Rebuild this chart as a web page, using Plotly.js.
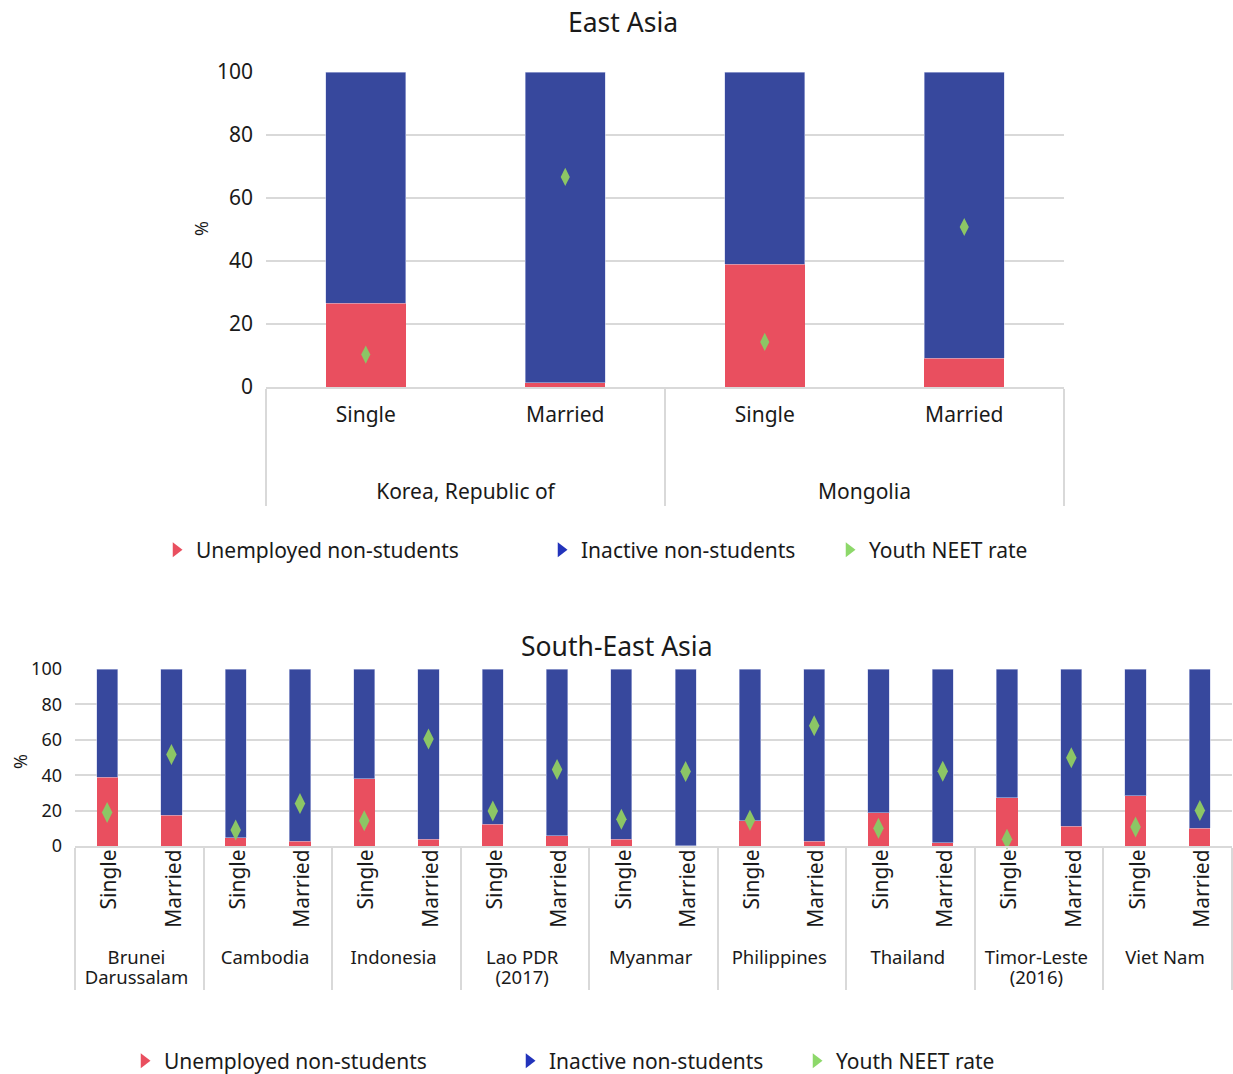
<!DOCTYPE html>
<html>
<head>
<meta charset="utf-8">
<script src="https://cdn.plot.ly/plotly-3.0.1.min.js"></script>
<style>
  html, body { margin: 0; padding: 0; background: #fff; }
  #chart { width: 1233px; height: 1074px; }
</style>
</head>
<body>
<div id="chart"></div>
<script>
// East Asia: NEET composition by marital status (%)
const eastCountries = ["Korea, Republic of", "Korea, Republic of", "Mongolia", "Mongolia"];
const eastStatus = ["Single", "Married", "Single", "Married"];
const eastUnemployed = [26.6, 1.3, 39.0, 9.2];
const eastInactive = [73.4, 98.7, 61.0, 90.8];
const eastNeet = [10.3, 66.7, 14.3, 50.8];

// South-East Asia: NEET composition by marital status (%)
const seCountries = [
  "Brunei<br>Darussalam", "Brunei<br>Darussalam",
  "Cambodia", "Cambodia",
  "Indonesia", "Indonesia",
  "Lao PDR<br>(2017)", "Lao PDR<br>(2017)",
  "Myanmar", "Myanmar",
  "Philippines", "Philippines",
  "Thailand", "Thailand",
  "Timor-Leste<br>(2016)", "Timor-Leste<br>(2016)",
  "Viet Nam", "Viet Nam"
];
const seStatus = [
  "Single", "Married", "Single", "Married", "Single", "Married",
  "Single", "Married", "Single", "Married", "Single", "Married",
  "Single", "Married", "Single", "Married", "Single", "Married"
];
const seUnemployed = [38.9, 17.5, 4.7, 2.6, 37.9, 3.8, 12.3, 5.7, 3.8, 0.2, 14.2, 2.6, 18.7, 1.7, 27.4, 11.3, 28.3, 10.0];
const seInactive = [61.1, 82.5, 95.3, 97.4, 62.1, 96.2, 87.7, 94.3, 96.2, 99.8, 85.8, 97.4, 81.3, 98.3, 72.6, 88.7, 71.7, 90.0];
const seNeet = [18.9, 51.7, 9.1, 24.0, 14.3, 60.4, 19.8, 43.2, 15.1, 42.1, 14.5, 67.9, 10.0, 42.3, 3.8, 49.8, 10.8, 20.0];

const seriesNames = ["Unemployed non-students", "Inactive non-students", "Youth NEET rate"];

const RED = "#E94F5F";
const BLUE = "#37489D";
const GREEN = "#8CC665";
const LEG_RED = "#E94F5F";
const LEG_BLUE = "#2233BB";
const LEG_GREEN = "#8DD86A";
const GRID = "#D9D9D9";
const INK = "#1A1A1A";
const FONT = "Noto Sans, Open Sans, sans-serif";
const W = 1233, H = 1074;

function px(x) { return x / W; }
function py(y) { return 1 - y / H; }
function sized(text, size) {
  return text.split("<br>").map(line => '<span style="font-size:' + size + 'px">' + line + "</span>").join("<br>");
}

// the upper panel's country row sits lower, below the status row
const eastGroupLabels = eastCountries.map(c => "<br><br>" + c);
const eastX = [eastGroupLabels, eastStatus];

// the lower panel: large rotated status labels, smaller country names
const seGroupLabels = seCountries.map(c => sized(c, 18.5));
const seStatusLabels = seStatus.map(s => sized(s, 21));
const seX = [seGroupLabels, seStatusLabels];

const traces = [];

// upper panel
traces.push({
  type: "bar", x: eastX, y: eastUnemployed,
  xaxis: "x", yaxis: "y", width: 0.4, showlegend: false, name: seriesNames[0],
  marker: { color: RED, line: { width: 0 } }
});
traces.push({
  type: "bar", x: eastX, y: eastInactive,
  xaxis: "x", yaxis: "y", width: 0.4, showlegend: false, name: seriesNames[1],
  marker: { color: BLUE, line: { color: "rgba(200,205,235,0.9)", width: 0.6 } }
});
traces.push({
  type: "scatter", mode: "markers", x: eastX, y: eastNeet,
  xaxis: "x", yaxis: "y", showlegend: false, name: seriesNames[2], cliponaxis: false,
  marker: { symbol: "diamond-tall", size: 13, color: GREEN }
});

// lower panel
traces.push({
  type: "bar", x: seX, y: seUnemployed,
  xaxis: "x2", yaxis: "y2", width: 0.33, showlegend: false, name: seriesNames[0],
  marker: { color: RED, line: { width: 0 } }
});
traces.push({
  type: "bar", x: seX, y: seInactive,
  xaxis: "x2", yaxis: "y2", width: 0.33, showlegend: false, name: seriesNames[1],
  marker: { color: BLUE, line: { color: "rgba(200,205,235,0.9)", width: 0.6 } }
});
traces.push({
  type: "scatter", mode: "markers", x: seX, y: seNeet,
  xaxis: "x2", yaxis: "y2", showlegend: false, name: seriesNames[2], cliponaxis: false,
  marker: { symbol: "diamond-tall", size: 15, color: GREEN }
});

// legend keys, one legend per entry so each sits at its own spot
const legColors = [LEG_RED, LEG_BLUE, LEG_GREEN];
const legendIds = ["legend", "legend2", "legend3", "legend4", "legend5", "legend6"];
for (let p = 0; p < 2; p++) {
  for (let i = 0; i < 3; i++) {
    traces.push({
      type: "scatter", mode: "markers", x: [null], y: [null],
      xaxis: p === 0 ? "x" : "x2", yaxis: p === 0 ? "y" : "y2",
      name: seriesNames[i], legend: legendIds[p * 3 + i], showlegend: true,
      hoverinfo: "skip",
      marker: { symbol: "triangle-right", size: 13, color: legColors[i] }
    });
  }
}

function legendAt(xSym, yMid) {
  return {
    x: px(xSym - 21), y: py(yMid), xanchor: "left", yanchor: "middle",
    orientation: "h", bgcolor: "rgba(0,0,0,0)", borderwidth: 0,
    font: { family: FONT, size: 21, color: INK }
  };
}

const tickFont = { family: FONT, size: 21, color: INK };

const layout = {
  width: W, height: H,
  margin: { l: 0, r: 0, t: 0, b: 0, autoexpand: false },
  paper_bgcolor: "#FFFFFF", plot_bgcolor: "#FFFFFF",
  barmode: "stack",
  font: { family: FONT, size: 21, color: INK },
  xaxis: {
    type: "multicategory", domain: [px(266), px(1064)], anchor: "y",
    range: [-0.5, eastStatus.length - 0.5],
    showline: true, linecolor: GRID, linewidth: 2,
    showgrid: false, ticks: "", tickfont: tickFont, ticklabelstandoff: 8,
    showdividers: true, dividercolor: GRID, dividerwidth: 2,
    automargin: false, fixedrange: true
  },
  yaxis: {
    domain: [py(387), py(72)], anchor: "x", range: [0, 100], dtick: 20,
    showgrid: true, gridcolor: GRID, gridwidth: 2, zeroline: false,
    showline: false, ticks: "", ticklabelstandoff: 12, tickfont: tickFont,
    automargin: false, fixedrange: true
  },
  xaxis2: {
    type: "multicategory", domain: [px(75), px(1232)], anchor: "y2",
    range: [-0.5, seStatus.length - 0.5],
    showline: true, linecolor: GRID, linewidth: 2,
    showgrid: false, ticks: "", tickangle: -90,
    tickfont: { family: FONT, size: 16, color: INK },
    ticklabelstandoff: -5, ticklabelshift: 4,
    showdividers: true, dividercolor: GRID, dividerwidth: 2,
    automargin: false, fixedrange: true
  },
  yaxis2: {
    domain: [py(846), py(669)], anchor: "x2", range: [0, 100], dtick: 20,
    showgrid: true, gridcolor: GRID, gridwidth: 2, zeroline: false,
    showline: false, ticks: "", ticklabelstandoff: 12,
    tickfont: { family: FONT, size: 18, color: INK },
    automargin: false, fixedrange: true
  },
  legend: legendAt(177, 550),
  legend2: legendAt(562, 550),
  legend3: legendAt(850, 550),
  legend4: legendAt(145, 1061),
  legend5: legendAt(530, 1061),
  legend6: legendAt(817, 1061),
  annotations: [
    { text: "East Asia", xref: "paper", yref: "paper", x: px(623), y: py(22),
      xanchor: "center", yanchor: "middle", showarrow: false,
      font: { family: FONT, size: 26.5, color: INK } },
    { text: "South-East Asia", xref: "paper", yref: "paper", x: px(617), y: py(646),
      xanchor: "center", yanchor: "middle", showarrow: false,
      font: { family: FONT, size: 26.5, color: INK } },
    { text: "%", xref: "paper", yref: "paper", x: px(201), y: py(229),
      xanchor: "center", yanchor: "middle", textangle: -90, showarrow: false,
      font: { family: FONT, size: 18, color: INK } },
    { text: "%", xref: "paper", yref: "paper", x: px(20), y: py(762),
      xanchor: "center", yanchor: "middle", textangle: -90, showarrow: false,
      font: { family: FONT, size: 18, color: INK } }
  ]
};

Plotly.newPlot("chart", traces, layout, { displayModeBar: false, staticPlot: true });
</script>
</body>
</html>
